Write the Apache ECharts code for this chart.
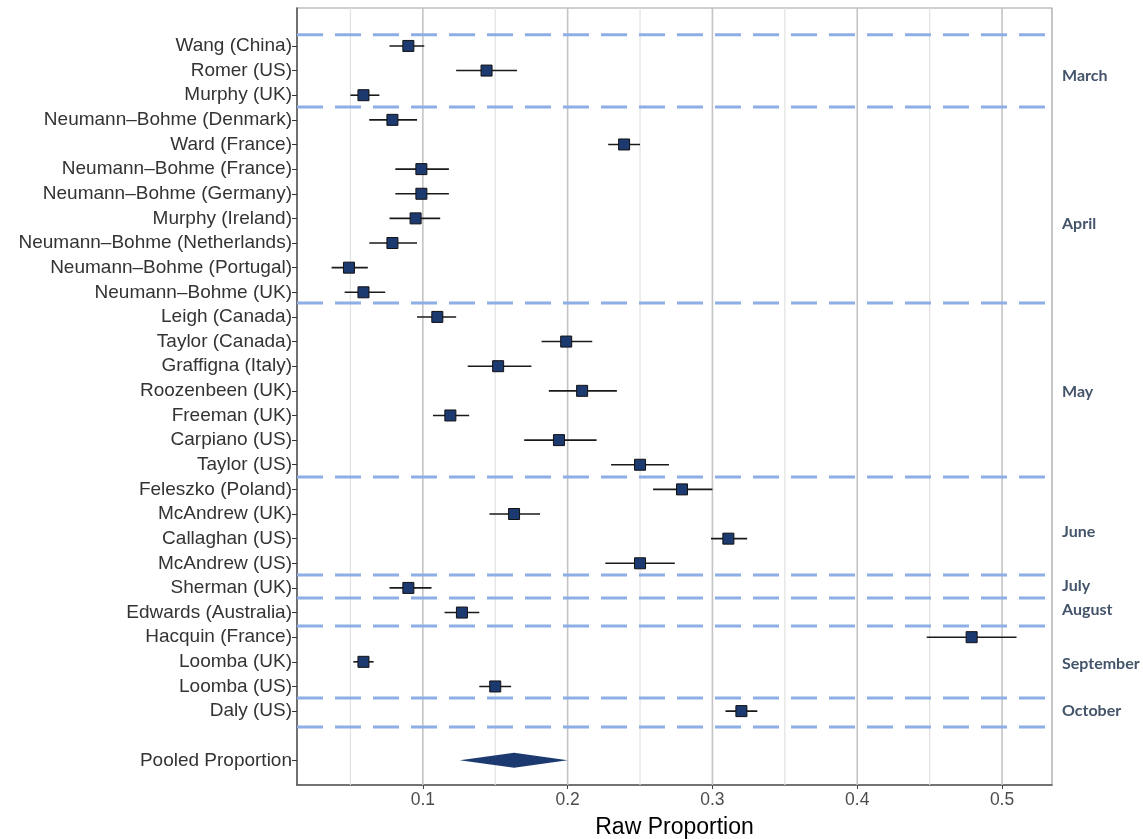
<!DOCTYPE html>
<html><head><meta charset="utf-8">
<script src="https://cdn.jsdelivr.net/npm/echarts@6/dist/echarts.min.js"></script>
<style>html,body{margin:0;padding:0;background:#fff}#c{width:1143px;height:839px}</style>
</head><body><div id="c"></div>
<script>
const studies = ['Wang (China)','Romer (US)','Murphy (UK)','Neumann\u2013Bohme (Denmark)','Ward (France)','Neumann\u2013Bohme (France)','Neumann\u2013Bohme (Germany)','Murphy (Ireland)','Neumann\u2013Bohme (Netherlands)','Neumann\u2013Bohme (Portugal)','Neumann\u2013Bohme (UK)','Leigh (Canada)','Taylor (Canada)','Graffigna (Italy)','Roozenbeen (UK)','Freeman (UK)','Carpiano (US)','Taylor (US)','Feleszko (Poland)','McAndrew (UK)','Callaghan (US)','McAndrew (US)','Sherman (UK)','Edwards (Australia)','Hacquin (France)','Loomba (UK)','Loomba (US)','Daly (US)'];
const est = [0.090,0.144,0.059,0.079,0.239,0.099,0.099,0.095,0.079,0.049,0.059,0.110,0.199,0.152,0.210,0.119,0.194,0.250,0.279,0.163,0.311,0.250,0.090,0.127,0.479,0.059,0.150,0.320];
const lo  = [0.077,0.123,0.050,0.063,0.228,0.081,0.081,0.077,0.063,0.037,0.046,0.096,0.182,0.131,0.187,0.107,0.170,0.230,0.259,0.146,0.299,0.226,0.077,0.115,0.448,0.052,0.139,0.309];
const hi  = [0.101,0.165,0.070,0.096,0.250,0.118,0.118,0.112,0.096,0.062,0.074,0.123,0.217,0.175,0.234,0.132,0.220,0.270,0.300,0.181,0.324,0.274,0.106,0.139,0.510,0.066,0.161,0.331];
const pooledLabel = 'Pooled Proportion';
const pooled = {lo:0.1255, est:0.163, hi:0.200};
const pooledRow = 29;
const xTicks = [0.1,0.2,0.3,0.4,0.5];
const gridMinor = [0.05,0.15,0.25,0.35,0.45];
const separators = [-0.45,2.48,10.43,17.5,21.48,22.41,23.55,26.47,27.65];
const months = ['March','April','May','June','July','August','September','October'];
const monthPos = [1.22,7.23,14.05,19.73,21.92,22.9,25.09,27.0];

const rowLabels = {};
studies.forEach((s,i)=>rowLabels[i]=s);
rowLabels[pooledRow] = pooledLabel;
const rowVals = Object.keys(rowLabels).map(Number);

const chart = echarts.init(document.getElementById('c'));
const yMin = -1.54, yMax = 30.0;
const xMin = 0.0131, xMax = 0.5345;
chart.setOption({
  animation:false,
  grid:{left:297,right:91,top:8,bottom:54,outerBoundsMode:'none',containLabel:false,show:true,borderColor:'#a0a0a0',borderWidth:1.2},
  xAxis:{type:'value',min:xMin,max:xMax,
    name:'Raw Proportion',nameLocation:'middle',nameGap:31,
    nameTextStyle:{fontFamily:'Liberation Sans',fontSize:23,color:'#000'},
    axisLine:{show:true,onZero:false,lineStyle:{color:'#555',width:1.5}},
    axisTick:{show:true,customValues:xTicks,length:4,lineStyle:{color:'#444'}},
    axisLabel:{customValues:xTicks,formatter:v=>(+v).toFixed(1),fontFamily:'Liberation Sans',fontSize:17.5,color:'#4d4d4d',margin:6},
    splitLine:{show:false}},
  yAxis:[{type:'value',inverse:true,min:yMin,max:yMax,
    axisLine:{show:true,onZero:false,lineStyle:{color:'#555',width:1.5}},
    axisTick:{show:true,customValues:rowVals,length:5,lineStyle:{color:'#333'}},
    axisLabel:{customValues:rowVals,formatter:v=>rowLabels[Math.round(v)]||'',fontFamily:'Liberation Sans',fontSize:19,color:'#333',margin:5},
    splitLine:{show:false}},
   {type:'value',inverse:true,min:yMin,max:yMax,position:'right',
    axisLine:{show:false},axisTick:{show:false},splitLine:{show:false},
    axisLabel:{customValues:monthPos,formatter:v=>{const k=monthPos.findIndex(p=>Math.abs(p-v)<1e-6);return k>=0?months[k]:'';},
      fontFamily:'Lato',fontWeight:'bold',fontSize:16,color:'#44546a',margin:10}}],
  series:[
    {type:'custom',z:1,silent:true,
     data:[...gridMinor.map(v=>[v,0]),...xTicks.map(v=>[v,1])],
     encode:{x:0},
     renderItem:(params,api)=>{
       const v=api.value(0), major=api.value(1)===1;
       const a=api.coord([v,yMin]), b=api.coord([v,yMax]);
       return {type:'line',shape:{x1:a[0],y1:a[1],x2:b[0],y2:b[1]},style:{stroke:major?'#c4c4c4':'#e2e2e2',lineWidth:major?1.6:1.2}};
     }},
    {type:'custom',z:2,silent:true,
     data:separators.map(v=>[v]),
     encode:{y:0},
     renderItem:(params,api)=>{
       const v=api.value(0);
       const a=api.coord([xMin,v]), b=api.coord([xMax,v]);
       return {type:'line',shape:{x1:a[0],y1:a[1],x2:b[0],y2:b[1]},style:{stroke:'#8eaee6',lineWidth:3,lineDash:[26,12]}};
     }},
    {type:'custom',z:3,
     data:studies.map((s,i)=>[i,lo[i],est[i],hi[i]]),
     encode:{x:[1,2,3],y:0},
     renderItem:(params,api)=>{
       const y=api.value(0);
       const l=api.coord([api.value(1),y]), c=api.coord([api.value(2),y]), h=api.coord([api.value(3),y]);
       return {type:'group',children:[
         {type:'line',z2:1,shape:{x1:l[0],y1:l[1],x2:h[0],y2:h[1]},style:{stroke:'#1a1a1a',lineWidth:1.6}},
         {type:'rect',z2:2,shape:{x:c[0]-5.5,y:c[1]-5.5,width:11,height:11},style:{fill:'#1c3a70',stroke:'#111',lineWidth:1}}
       ]};
     }},
    {type:'custom',z:3,
     data:[[pooledRow,pooled.lo,pooled.est,pooled.hi]],
     encode:{x:[1,2,3],y:0},
     renderItem:(params,api)=>{
       const y=api.value(0);
       const l=api.coord([api.value(1),y]), c=api.coord([api.value(2),y]), h=api.coord([api.value(3),y]);
       return {type:'polygon',shape:{points:[[l[0],l[1]],[c[0],c[1]-7.5],[h[0],h[1]],[c[0],c[1]+7.5]]},style:{fill:'#1c3a70'}};
     }}
  ]
});
</script></body></html>
